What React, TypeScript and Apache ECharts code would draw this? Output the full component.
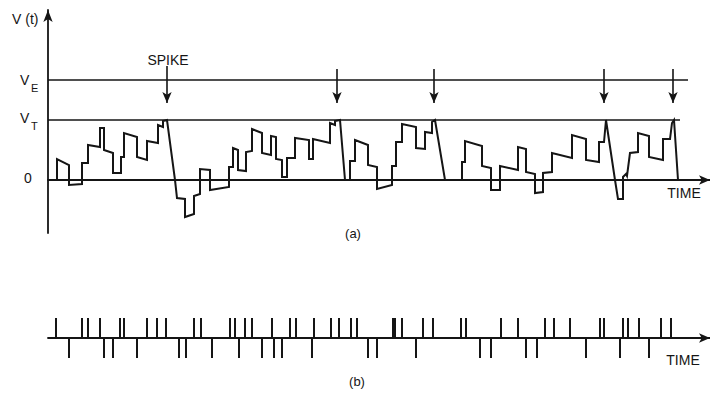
import React, { useEffect, useRef } from 'react';
import * as echarts from 'echarts';

// Membrane potential trace V(t): [time, voltage] (0 = resting level)
const wave: [number, number][] = [
  [57, 0], [57, 21], [69, 15], [69, -5], [82, -4], [82, 17], [88, 17], [88, 35],
  [100, 33], [100, 52], [104, 52], [104, 30], [113, 27], [113, 7], [121, 7], [121, 23],
  [124, 23], [124, 47], [137, 43], [137, 23], [147, 20], [147, 39], [158, 37], [158, 55],
  [163, 53], [163, 59], [167, 60], [175, 0], [177, -18], [185, -19], [185, -37], [194, -34],
  [194, -16], [200, -14], [200, 11], [210, 10], [210, -10], [229, -7], [229, 13], [233, 13],
  [233, 32], [238, 30], [238, 10], [246, 9], [246, 28], [252, 29], [252, 51], [262, 47],
  [262, 27], [271, 25], [271, 44], [276, 43], [276, 21], [282, 20], [282, 3], [287, 3],
  [287, 22], [295, 22], [295, 42], [309, 40], [309, 21], [313, 21], [313, 41], [330, 37],
  [330, 57], [335, 55], [335, 59], [340, 60], [345, 0], [350, 0], [350, 19], [355, 19],
  [355, 40], [368, 35], [368, 15], [377, 13], [377, -9], [392, -5], [392, 14], [396, 14],
  [396, 38], [402, 38], [402, 56], [416, 53], [416, 32], [425, 31], [425, 48], [432, 47],
  [432, 58], [435, 60], [445, 0], [462, 0], [462, 18], [465, 18], [465, 39], [482, 34],
  [482, 14], [491, 12], [491, -10], [500, -10], [500, 14], [518, 10], [518, 33], [526, 31],
  [526, 8], [535, 6], [535, -13], [543, -12], [543, 7], [552, 8], [552, 27], [572, 22],
  [572, 45], [586, 41], [586, 20], [599, 18], [599, 38], [604, 38], [606, 60], [615, 0],
  [618, -19], [623, -19], [623, 3], [626, 6], [627, 4], [630, 27], [638, 28], [638, 47],
  [649, 44], [649, 23], [663, 20], [663, 41], [670, 41], [672, 57], [674, 60], [678, 0],
];

// Levels
const levelE = 100;
const levelT = 60;
const levelEEnd = 688;
const levelTEnd = 680;

// Spike times (arrows)
const spikeTimes = [167, 337, 434, 604, 673];

// Input pulse train (b)
const excitatory = [
  56, 82, 88, 100, 120, 124, 147, 157, 166, 194, 201, 230, 235, 245, 252, 272, 290, 296,
  314, 331, 339, 351, 357, 393, 395, 402, 423, 433, 461, 466, 501, 518, 545, 554, 570,
  600, 604, 623, 628, 639, 661, 671,
];
const inhibitory = [
  69, 104, 113, 137, 179, 186, 212, 239, 262, 274, 282, 312, 368, 377, 416, 480, 491,
  526, 537, 586, 620, 649,
];

export default function App() {
  const ref = useRef<HTMLDivElement>(null);
  useEffect(() => {
    const chart = echarts.init(ref.current!, null, { renderer: 'svg' });
    const ink = '#151515';
    const font = '"Liberation Sans", Arial, sans-serif';
    const txt = (text: string, x: number, y: number, size = 14, align = 'center') => ({
      type: 'text',
      x,
      y,
      silent: true,
      style: {
        text,
        fill: ink,
        font: `${size}px ${font}`,
        textAlign: align,
        textVerticalAlign: 'middle',
      },
    });
    const axisLine = (arrow: number[]) => ({
      show: true,
      onZero: true,
      symbol: ['none', 'arrow'],
      symbolSize: arrow,
      lineStyle: { color: ink, width: 1.8 },
    });
    const pulses = [
      ...excitatory.map((t) => [t, 1]),
      ...inhibitory.map((t) => [t, -1]),
    ];
    chart.setOption({
      animation: false,
      backgroundColor: '#ffffff',
      grid: [
        { left: 48, top: 10, width: 662, height: 223 },
        { left: 48, top: 318, width: 662, height: 40 },
      ],
      xAxis: [
        {
          type: 'value', gridIndex: 0, min: 48, max: 710,
          axisLine: axisLine([7, 11]), axisTick: { show: false },
          axisLabel: { show: false }, splitLine: { show: false },
        },
        {
          type: 'value', gridIndex: 1, min: 48, max: 710,
          axisLine: axisLine([7, 11]), axisTick: { show: false },
          axisLabel: { show: false }, splitLine: { show: false },
        },
      ],
      yAxis: [
        {
          type: 'value', gridIndex: 0, min: -53, max: 170,
          axisLine: axisLine([7, 12]), axisTick: { show: false },
          axisLabel: { show: false }, splitLine: { show: false },
        },
        { type: 'value', gridIndex: 1, min: -1, max: 1, show: false },
      ],
      series: [
        {
          type: 'line', xAxisIndex: 0, yAxisIndex: 0, data: wave,
          showSymbol: false, silent: true,
          lineStyle: { color: ink, width: 2, join: 'miter' },
          markLine: {
            silent: true,
            symbol: ['none', 'arrow'],
            symbolSize: [7, 11],
            label: { show: false },
            lineStyle: { color: ink, width: 1.6, type: 'solid' },
            data: spikeTimes.map((t, i) => [
              { coord: [t, i === 0 ? 114 : 111] },
              { coord: [t, 77] },
            ]),
          },
        },
        {
          type: 'line', xAxisIndex: 0, yAxisIndex: 0,
          data: [[48, levelE], [levelEEnd, levelE]],
          showSymbol: false, silent: true,
          lineStyle: { color: ink, width: 1.6 },
        },
        {
          type: 'line', xAxisIndex: 0, yAxisIndex: 0,
          data: [[48, levelT], [levelTEnd, levelT]],
          showSymbol: false, silent: true,
          lineStyle: { color: ink, width: 1.6 },
        },
        {
          type: 'custom', xAxisIndex: 1, yAxisIndex: 1, data: pulses, silent: true,
          renderItem: (_p: any, api: any) => {
            const t = api.value(0);
            const d = api.value(1);
            const a = api.coord([t, 0]);
            const b = api.coord([t, d]);
            return {
              type: 'line',
              shape: { x1: a[0], y1: a[1], x2: b[0], y2: b[1] },
              style: { stroke: ink, lineWidth: 2 },
            };
          },
        },
      ],
      graphic: [
        txt('V (t)', 12, 19, 14, 'left'),
        txt('V', 20, 80, 14, 'left'),
        txt('E', 31, 88, 11, 'left'),
        txt('V', 20, 118, 14, 'left'),
        txt('T', 31, 126, 11, 'left'),
        txt('0', 28, 178, 14),
        txt('SPIKE', 168, 60, 14),
        txt('TIME', 684, 193, 14),
        txt('(a)', 353, 233, 13),
        txt('TIME', 683, 360, 14),
        txt('(b)', 357, 381, 13),
      ],
    });
    return () => chart.dispose();
  }, []);
  return (
    <div
      ref={ref}
      style={{ position: 'fixed', left: 0, top: 0, width: 710, height: 400, background: '#fff' }}
    />
  );
}
